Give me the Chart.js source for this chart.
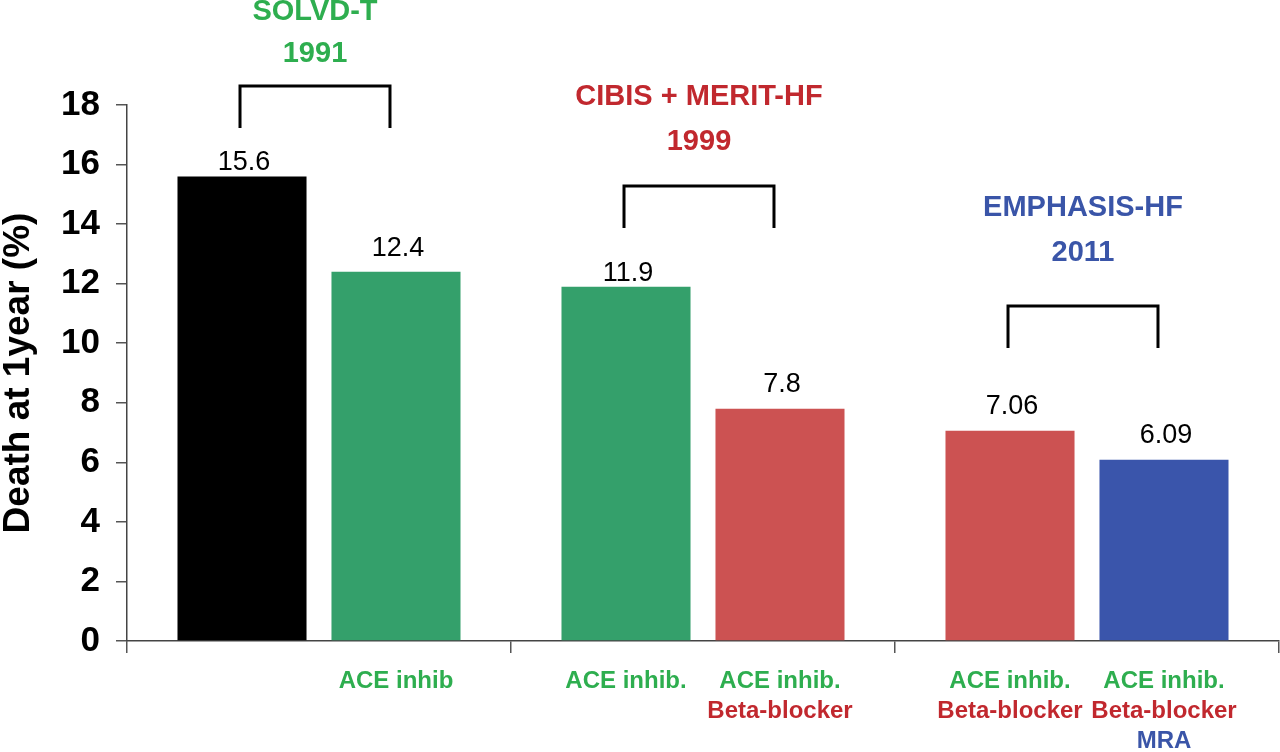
<!DOCTYPE html>
<html>
<head>
<meta charset="utf-8">
<script src="https://cdn.jsdelivr.net/npm/chart.js@4"></script>
<style>
  html, body { margin: 0; padding: 0; background: #fff; }
</style>
</head>
<body>
<canvas id="chart" width="1280" height="752"></canvas>
<script>
// Trials and their years (group headings)
const trials = ['SOLVD-T', 'CIBIS + MERIT-HF', 'EMPHASIS-HF'];
const trialYears = ['1991', '1999', '2011'];

// Death at 1 year (%), control arm then treated arm of each trial
const controlDeath = [15.6, 11.9, 7.06];
const treatedDeath = [12.4, 7.8, 6.09];

// Background therapy written under each bar
const controlTherapy = [[], ['ACE inhib.'], ['ACE inhib.', 'Beta-blocker']];
const treatedTherapy = [['ACE inhib'], ['ACE inhib.', 'Beta-blocker'], ['ACE inhib.', 'Beta-blocker', 'MRA']];

const yTicks = [0, 2, 4, 6, 8, 10, 12, 14, 16, 18];

// colours
const GREEN_BAR = '#34a06b', RED_BAR = '#cc5252', BLUE_BAR = '#3a55ab';
const GREEN_TXT = '#2eae4f', RED_TXT = '#c1282e', BLUE_TXT = '#3a55a8';
const titleColors = [GREEN_TXT, RED_TXT, BLUE_TXT];
const therapyColor = t => t.startsWith('ACE') ? GREEN_TXT : (t === 'MRA' ? BLUE_TXT : RED_TXT);

// where brackets and headings sit, in y-axis units
const notes = [
  { top: 18.64, bottom: 17.23, line1: 21.12, line2: 19.72 },
  { top: 15.28, bottom: 13.87, line1: 18.27, line2: 16.76 },
  { top: 11.25, bottom: 9.84, line1: 14.54, line2: 13.03 }
];
// gap (px) between a bar top and its value label: control row, treated row
const valueGap = [[6, 6, 17], [16, 17, 17]];

const FONT = '"Liberation Sans", Arial, sans-serif';

const annotations = {
  id: 'annotations',
  afterDraw(chart) {
    const ctx = chart.ctx;
    const y = chart.scales.y;
    const m0 = chart.getDatasetMeta(0).data;
    const m1 = chart.getDatasetMeta(1).data;
    ctx.save();

    // value labels on top of bars
    ctx.fillStyle = '#000';
    ctx.font = '27px ' + FONT;
    ctx.textAlign = 'center';
    ctx.textBaseline = 'alphabetic';
    [m0, m1].forEach((bars, d) => {
      bars.forEach((bar, i) => {
        const v = chart.data.datasets[d].data[i];
        ctx.fillText(String(v), bar.x + 2, bar.y - valueGap[d][i]);
      });
    });

    // therapy labels below the axis
    ctx.font = 'bold 24px ' + FONT;
    ctx.textBaseline = 'middle';
    [[m0, controlTherapy], [m1, treatedTherapy]].forEach(([bars, lists]) => {
      bars.forEach((bar, i) => {
        lists[i].forEach((t, k) => {
          ctx.fillStyle = therapyColor(t);
          ctx.fillText(t, bar.x, 681 + k * 30);
        });
      });
    });

    // brackets and trial headings
    ctx.strokeStyle = '#000';
    ctx.lineWidth = 3;
    ctx.lineJoin = 'miter';
    notes.forEach((n, i) => {
      const x0 = m0[i].x - 2, x1 = m1[i].x - 6;
      const yt = y.getPixelForValue(n.top), yb = y.getPixelForValue(n.bottom);
      ctx.beginPath();
      ctx.moveTo(x0, yb);
      ctx.lineTo(x0, yt);
      ctx.lineTo(x1, yt);
      ctx.lineTo(x1, yb);
      ctx.stroke();
      const cx = (x0 + x1) / 2;
      ctx.fillStyle = titleColors[i];
      ctx.font = 'bold 29px ' + FONT;
      ctx.fillText(trials[i], cx, y.getPixelForValue(n.line1));
      ctx.fillText(trialYears[i], cx, y.getPixelForValue(n.line2));
    });

    // y axis title
    ctx.translate(19, (chart.chartArea.top + chart.chartArea.bottom) / 2);
    ctx.rotate(-Math.PI / 2);
    ctx.fillStyle = '#000';
    ctx.font = 'bold 37px ' + FONT;
    ctx.fillText('Death at 1year (%)', 0, 0);
    ctx.restore();
  }
};

new Chart(document.getElementById('chart'), {
  type: 'bar',
  data: {
    labels: trials,
    datasets: [
      { label: 'Control', data: controlDeath, backgroundColor: ['#000000', GREEN_BAR, RED_BAR] },
      { label: 'Treated', data: treatedDeath, backgroundColor: [GREEN_BAR, RED_BAR, BLUE_BAR] }
    ]
  },
  options: {
    responsive: false,
    animation: false,
    categoryPercentage: 0.802,
    barPercentage: 0.838,
    layout: { padding: { top: 105, right: 1 } },
    plugins: { legend: { display: false }, tooltip: { enabled: false } },
    scales: {
      x: {
        offset: true,
        grid: { offset: true, drawOnChartArea: false, drawTicks: true, tickLength: 12, color: '#555', lineWidth: 1.5 },
        border: { display: true, color: '#444', width: 1.5 },
        ticks: { display: false },
        afterFit: s => { s.height = 111; }
      },
      y: {
        min: 0,
        max: 18,
        afterBuildTicks: s => { s.ticks = yTicks.map(v => ({ value: v })); },
        ticks: { color: '#000', padding: 16, font: { family: FONT, size: 35, weight: 'bold' } },
        grid: { drawOnChartArea: false, drawTicks: true, tickLength: 11, color: '#555', lineWidth: 1.5 },
        border: { display: true, color: '#444', width: 1.5 },
        afterFit: s => { s.width = 127; }
      }
    }
  },
  plugins: [annotations]
});
</script>
</body>
</html>
